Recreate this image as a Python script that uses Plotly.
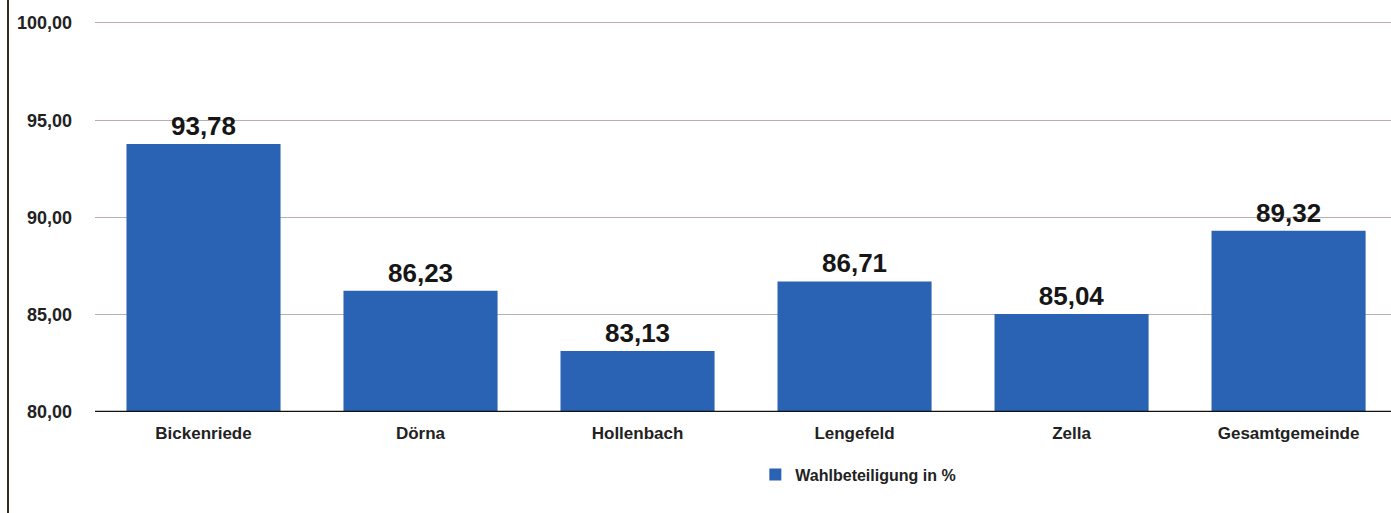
import plotly.graph_objects as go

categories = ["Bickenriede", "Dörna", "Hollenbach", "Lengefeld", "Zella", "Gesamtgemeinde"]
values = [93.78, 86.23, 83.13, 86.71, 85.04, 89.32]
series_name = "Wahlbeteiligung in %"
y_ticks = [80, 85, 90, 95, 100]

W, H = 1391, 513
ml, mr, mt, mb = 95, 0, 21, 101
FONT = "Liberation Sans, Arial, sans-serif"

fig = go.Figure()
fig.add_trace(go.Bar(
    x=categories, y=values, name=series_name,
    marker=dict(color="#2B63B4", line=dict(width=0)),
    texttemplate="<b>%{y:.2f}</b>", textposition="outside",
    textfont=dict(family=FONT, size=26, color="#161616"),
    cliponaxis=False,
))

fig.update_layout(
    width=W, height=H,
    margin=dict(l=ml, r=mr, t=mt, b=mb),
    paper_bgcolor="white", plot_bgcolor="white",
    separators=",.",
    bargap=0.29,
    font=dict(family=FONT, size=17, color="#222"),
    showlegend=True,
    legend=dict(orientation="h", x=0.589, xanchor="center", y=-0.16, yanchor="middle",
                font=dict(size=16, color="#222", family=FONT, weight="bold")),
    xaxis=dict(range=[-0.5, 5.472], showgrid=False, ticks="", showline=False,
               ticklabelstandoff=9,
               tickfont=dict(size=17, color="#222", family=FONT, weight="bold")),
    yaxis=dict(range=[80, 100.1], tickvals=y_ticks, tickformat=".2f",
               showgrid=True, gridcolor="#bcaeae", gridwidth=1,
               zeroline=False, showline=False,
               ticklabelstandoff=22,
               tickfont=dict(size=18, color="#222", family=FONT, weight="bold")),
    shapes=[
        dict(type="line", xref="paper", yref="y", x0=0, x1=1, y0=80, y1=80,
             line=dict(color="#111", width=2.5)),
        dict(type="line", xref="paper", yref="paper", x0=(8 - ml) / (W - ml - mr), x1=(8 - ml) / (W - ml - mr),
             y0=-mb / (H - mt - mb), y1=1 + mt / (H - mt - mb), line=dict(color="#3a2a20", width=2)),
    ],
)

fig.write_html("out.html")
